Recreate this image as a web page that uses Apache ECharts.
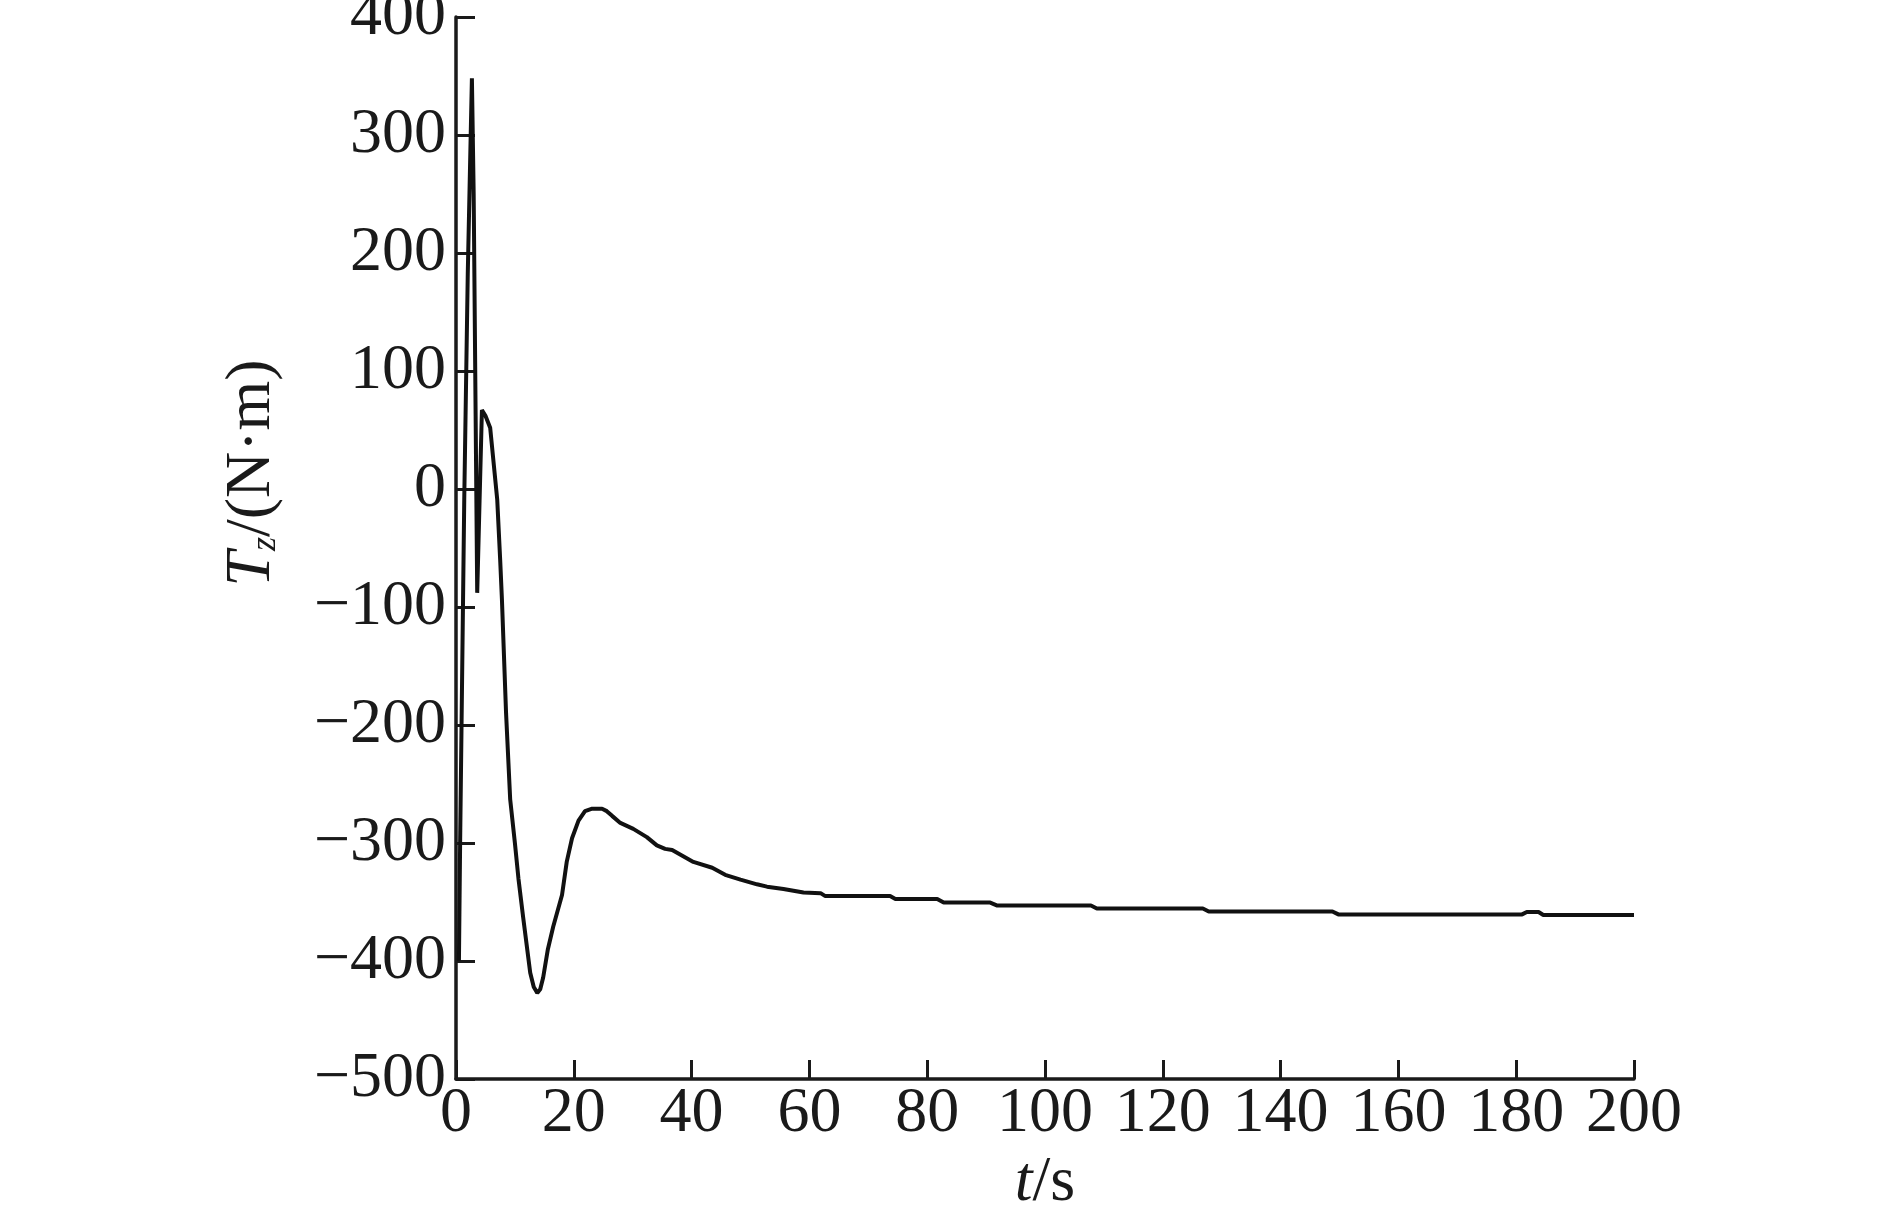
<!DOCTYPE html>
<html>
<head>
<meta charset="utf-8">
<script src="https://cdn.jsdelivr.net/npm/echarts@6/dist/echarts.min.js"></script>
<style>
html,body{margin:0;padding:0;background:#fff;}
#chart{width:1889px;height:1209px;}
</style>
</head>
<body>
<div id="chart"></div>
<script>
// time (s)
var timeValues = [0.5, 0.7, 1.4, 2.0, 2.7, 3.0, 3.3, 3.6, 4.0, 4.4, 5.0, 5.8, 7.0, 7.5, 7.8, 8.5, 9.2, 10.0, 10.6, 11.4, 12.6, 13.2, 13.8, 14.3, 14.8, 15.6, 16.5, 18.0, 18.8, 19.7, 20.8, 21.9, 23.0, 24.8, 25.6, 26.5, 27.9, 30.1, 32.4, 34.1, 35.5, 36.7, 38.5, 40.3, 43.5, 45.7, 48.3, 51.1, 52.8, 55.6, 59.0, 61.9, 62.7, 73.7, 74.6, 81.7, 82.8, 90.7, 91.9, 107.8, 108.8, 126.8, 127.8, 148.8, 149.8, 181.0, 181.8, 183.8, 184.6, 200];
// torque Tz (N·m)
var torqueValues = [-400, -300, -9, 183, 348, 250, 80, -88, -10, 67, 62, 52, -9, -60, -94, -190, -263, -300, -330, -363, -410, -422, -427, -424, -414, -390, -371, -344, -316, -296, -281, -273, -271, -271, -273, -277, -283, -288, -295, -302, -305, -306, -311, -316, -321, -327, -331, -335, -337, -339, -342, -342.5, -345, -345, -347.5, -347.5, -350.5, -350.5, -353, -353, -355.5, -355.5, -358, -358, -360.5, -360.5, -358.5, -358.5, -361, -361];
var xTicks = [0, 20, 40, 60, 80, 100, 120, 140, 160, 180, 200];
var yTicks = [-500, -400, -300, -200, -100, 0, 100, 200, 300, 400];

var seriesData = timeValues.map(function (t, i) { return [t, torqueValues[i]]; });
var FONT = "'Liberation Serif','Times New Roman',serif";
var INK = '#1a1a1a';

var chart = echarts.init(document.getElementById('chart'), null, {renderer: 'canvas'});
chart.setOption({
  backgroundColor: '#ffffff',
  animation: false,
  grid: {left: 456, right: 255, top: 17, bottom: 130, containLabel: false, outerBoundsMode: 'none'},
  xAxis: {
    type: 'value',
    min: xTicks[0], max: xTicks[xTicks.length - 1], interval: 20,
    splitLine: {show: false},
    axisLine: {show: true, onZero: false, lineStyle: {color: INK, width: 3.5}},
    axisTick: {show: true, inside: true, length: 19, lineStyle: {color: INK, width: 3}},
    axisLabel: {color: INK, fontFamily: FONT, fontSize: 64, margin: 3},
    name: '{i|t}/s',
    nameLocation: 'middle',
    nameGap: 72,
    nameTextStyle: {
      color: INK, fontFamily: FONT, fontSize: 64,
      rich: {i: {fontStyle: 'italic', fontFamily: FONT, fontSize: 64, color: INK}}
    }
  },
  yAxis: {
    type: 'value',
    min: yTicks[0], max: yTicks[yTicks.length - 1], interval: 100,
    splitLine: {show: false},
    axisLine: {show: true, onZero: false, lineStyle: {color: INK, width: 3.5}},
    axisTick: {show: true, inside: true, length: 19, lineStyle: {color: INK, width: 3}},
    axisLabel: {
      color: INK, fontFamily: FONT, fontSize: 64, margin: 10,
      formatter: function (v) { return String(v).replace('-', '\u2212'); }
    }
  },
  graphic: [{
    type: 'text',
    x: 248, y: 473,
    rotation: Math.PI / 2,
    style: {
      text: '{i|T}{s|z}{n|/(N\u00b7m)}',
      align: 'center',
      verticalAlign: 'middle',
      fill: INK,
      font: '64px ' + FONT,
      rich: {
        i: {fontStyle: 'italic', fontSize: 64, fontFamily: FONT, lineHeight: 72, verticalAlign: 'bottom', fill: INK},
        s: {fontStyle: 'italic', fontSize: 36, fontFamily: FONT, lineHeight: 36, verticalAlign: 'bottom', fill: INK},
        n: {fontSize: 64, fontFamily: FONT, lineHeight: 72, verticalAlign: 'bottom', fill: INK}
      }
    }
  }],
  series: [{
    type: 'line',
    data: seriesData,
    showSymbol: false,
    symbol: 'none',
    smooth: false,
    lineStyle: {color: '#111111', width: 4},
    clip: false
  }]
});
</script>
</body>
</html>
